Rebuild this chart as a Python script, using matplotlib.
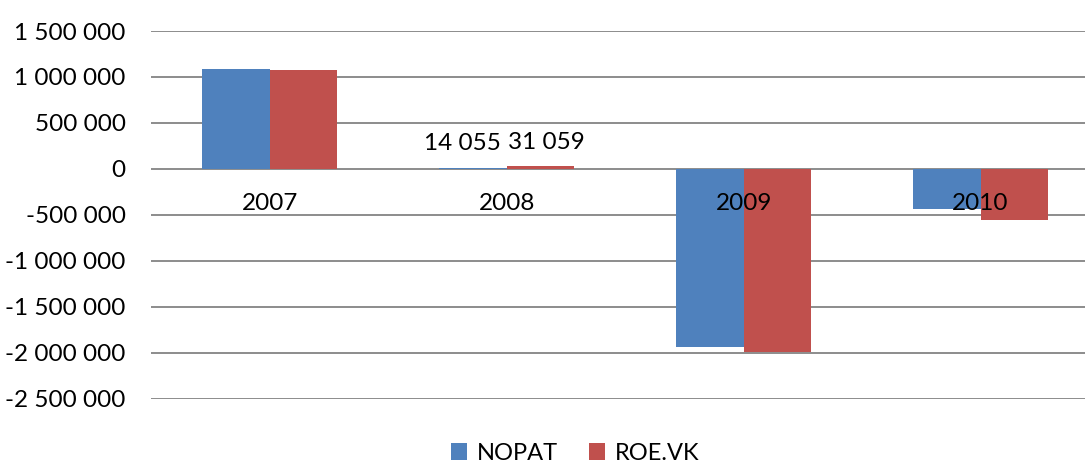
import numpy as np
import matplotlib.pyplot as plt
from matplotlib.ticker import FuncFormatter

years = ["2007", "2008", "2009", "2010"]
nopat = [1087000, 14055, -1931000, -435000]
roe_vk = [1076000, 31059, -1993000, -551000]

plt.rcParams['font.family'] = ['Lato', 'DejaVu Sans']

fig = plt.figure(figsize=(10.85, 4.62), dpi=100)
ax = fig.add_axes([0.1396, 0.1364, 0.8733, 0.7965])

x = np.arange(len(years))
w = 0.285
b1 = ax.bar(x - w / 2, nopat, w, color='#4F81BD', label='NOPAT', zorder=3)
b2 = ax.bar(x + w / 2, roe_vk, w, color='#C0504D', label='ROE.VK', zorder=3)

ax.set_xlim(-0.5, len(years) - 0.5)
ax.set_ylim(-2500000, 1500000)
ax.set_yticks(np.arange(-2500000, 1500001, 500000))
ax.yaxis.set_major_formatter(FuncFormatter(lambda v, p: f"{int(v):,}".replace(",", " ")))
ax.tick_params(axis='y', length=0, pad=18.5, labelsize=17.5)
ax.grid(axis='y', color='#8c8c8c', linewidth=1.4, zorder=0)
ax.set_xticks([])
for s in ax.spines.values():
    s.set_visible(False)

# category labels sit just under the zero line
for i, yr in enumerate(years):
    ax.annotate(yr, (i, 0), xytext=(0, -35), textcoords='offset pixels',
                ha='center', va='center', fontsize=17.5, zorder=5)

# data labels for 2008
ax.annotate("14 055", (x[1] - w / 2, nopat[1]), xytext=(-11, 24), textcoords='offset pixels',
            ha='center', va='center', fontsize=17.5)
ax.annotate("31 059", (x[1] + w / 2, roe_vk[1]), xytext=(6, 24), textcoords='offset pixels',
            ha='center', va='center', fontsize=17.5)

fig.legend(handles=[b1, b2], loc='center', bbox_to_anchor=(575 / 1085, 1 - 453 / 462),
           ncol=2, frameon=False, fontsize=17, handlelength=0.7, handleheight=0.7,
           handletextpad=0.4, columnspacing=1.3)

fig.savefig("out.png", dpi=100)
